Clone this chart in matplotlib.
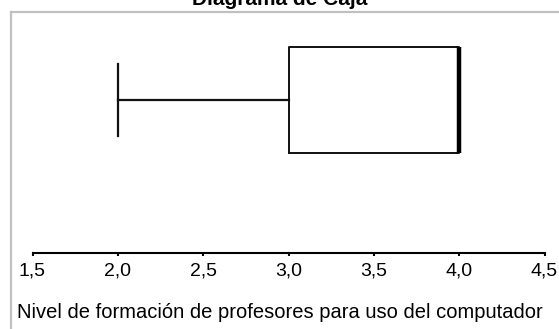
import matplotlib
matplotlib.use("Agg")
import matplotlib.pyplot as plt

# Data (five-number summary)
whisker_low = [2.0]
q1 = [3.0]
median = [4.0]
q3 = [4.0]
whisker_high = [4.0]
tick_values = [1.5, 2.0, 2.5, 3.0, 3.5, 4.0, 4.5]
tick_labels = ["1,5", "2,0", "2,5", "3,0", "3,5", "4,0", "4,5"]
title = "Diagrama de Caja"
xlabel = "Nivel de formación de profesores para uso del computador"

plt.rcParams['font.family'] = ['Liberation Sans', 'DejaVu Sans']

W, H = 559, 329
fig = plt.figure(figsize=(W / 100, H / 100), dpi=100)

# gray frame (left and top edges)
fig.add_artist(plt.Line2D([11 / W, 11 / W], [0, 1 - 12 / H], transform=fig.transFigure,
                          color="#c0c0c0", lw=1.6))
fig.add_artist(plt.Line2D([11 / W, 1], [1 - 12 / H, 1 - 12 / H], transform=fig.transFigure,
                          color="#c0c0c0", lw=1.6))

ax = fig.add_axes([32.5 / W, 1 - 253 / H, 512 / W, 240 / H])
stats = [dict(whislo=whisker_low[0], q1=q1[0], med=median[0], q3=q3[0],
              whishi=whisker_high[0], fliers=[])]
ax.bxp(stats, positions=[0.6375], widths=[0.442], vert=False, showfliers=False,
       capwidths=[0.304],
       boxprops=dict(color="#111111", lw=1.4),
       whiskerprops=dict(color="#111111", lw=1.6),
       capprops=dict(color="#111111", lw=1.6),
       medianprops=dict(color="black", lw=3.2))
ax.set_xlim(1.5, 4.5)
ax.set_ylim(0, 1)
ax.set_yticks([])
for s in ["top", "right", "left"]:
    ax.spines[s].set_visible(False)
ax.spines["bottom"].set_linewidth(1.5)
ax.set_xticks(tick_values)
ax.set_xticklabels(tick_labels, fontsize=14)
ax.tick_params(axis="x", length=2, width=1.5, pad=5)
ax.patch.set_alpha(0)

fig.text(280 / W, 1 - 318 / H, xlabel, ha="center", va="baseline", fontsize=14.5)
fig.text(280 / W, 1 - 5 / H, title, ha="center", va="baseline", fontsize=15,
         fontweight="bold")

fig.savefig("out.png", dpi=100)
